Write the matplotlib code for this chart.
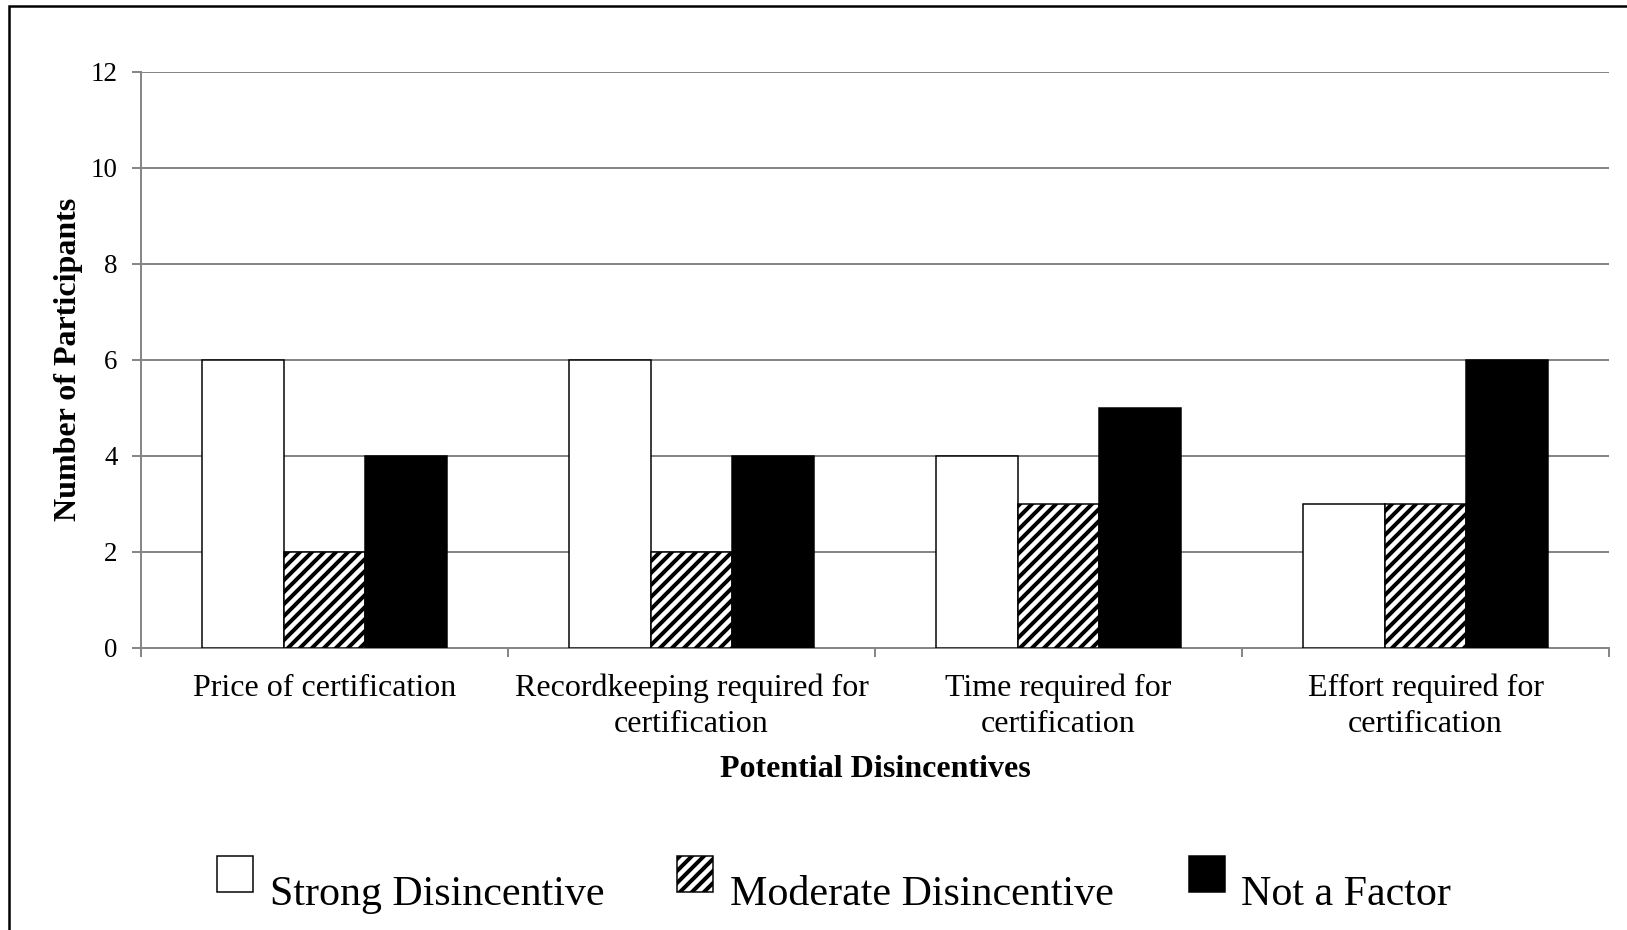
import matplotlib
matplotlib.use("Agg")
import matplotlib.pyplot as plt
from matplotlib.patches import Rectangle
import numpy as np

categories = ["Price of certification", "Recordkeeping required for\ncertification",
              "Time required for\ncertification", "Effort required for\ncertification"]
series_names = ["Strong Disincentive", "Moderate Disincentive", "Not a Factor"]
strong = [6, 6, 4, 3]
moderate = [2, 2, 3, 3]
not_factor = [4, 4, 5, 6]
y_ticks = [0, 2, 4, 6, 8, 10, 12]

plt.rcParams['font.family'] = ['Liberation Serif', 'DejaVu Serif']
plt.rcParams['hatch.linewidth'] = 4.0
plt.rcParams['hatch.color'] = 'black'

DPI = 72
W, H = 1627, 930
fig = plt.figure(figsize=(W / DPI, H / DPI), dpi=DPI)
ax = fig.add_axes([141 / W, 1 - 647.5 / H, (1609 - 141) / W, (647.5 - 71.6) / H])

grid_col = '#878787'
x = np.arange(len(categories))
bw = 0.222
styles = [dict(color='white', hatch=None),
          dict(color='white', hatch='//'),
          dict(color='black', hatch=None)]
data = [strong, moderate, not_factor]
for i, (vals, st) in enumerate(zip(data, styles)):
    ax.bar(x + (i - 1) * bw, vals, bw, facecolor=st['color'], edgecolor='black',
           hatch=st['hatch'], linewidth=1.5, zorder=3)

ax.set_xlim(-0.5, len(categories) - 0.5)
ax.set_ylim(0, 12)
ax.set_yticks(y_ticks)
ax.yaxis.grid(True, color=grid_col, linewidth=2, zorder=0)
ax.set_axisbelow(True)
for s in ['top', 'right']:
    ax.spines[s].set_visible(False)
for s in ['left', 'bottom']:
    ax.spines[s].set_color(grid_col)
    ax.spines[s].set_linewidth(2)

ax.set_xticks(np.arange(-0.5, len(categories), 1.0))
ax.set_xticklabels([])
ax.set_xticks(x, minor=True)
ax.set_xticklabels(categories, minor=True, fontsize=32, linespacing=1.3)
ax.tick_params(axis='x', which='major', length=9, width=2, color=grid_col)
ax.tick_params(axis='x', which='minor', length=0, pad=26)
ax.tick_params(axis='y', length=9.5, width=2, color=grid_col, labelsize=27, pad=14)

ax.set_xlabel("Potential Disincentives", fontsize=32, fontweight='bold', labelpad=16)
ax.set_ylabel("Number of Participants", fontsize=32, fontweight='bold', labelpad=7)

# Legend (manual, bottom)
sq = 36
sq_x = [217, 676.5, 1189]
txt_x = [270, 729.5, 1241]
for i, name in enumerate(series_names):
    st = styles[i]
    r = Rectangle((sq_x[i] / W, 1 - 892 / H), sq / W, sq / H, transform=fig.transFigure,
                  facecolor=st['color'], edgecolor='black', hatch=st['hatch'], linewidth=1.5)
    fig.add_artist(r)
    fig.text(txt_x[i] / W, 1 - 905 / H, name, fontsize=42, va='baseline', ha='left')

# figure border
border = Rectangle((9 / W, -0.05), 1.2, 1 - 6 / H + 0.05, transform=fig.transFigure,
                   facecolor='none', edgecolor='black', linewidth=2.5)
fig.add_artist(border)

fig.savefig("out.png", dpi=DPI)
